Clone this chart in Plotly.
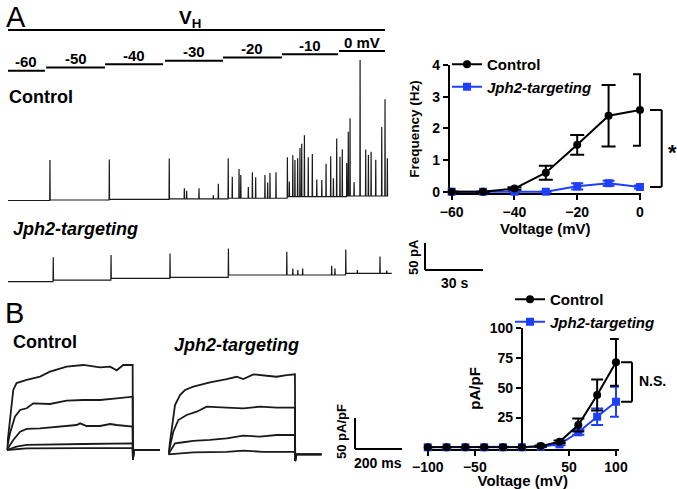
import plotly.graph_objects as go

W, H = 677, 489
FONT = "Liberation Sans, Arial, Helvetica, sans-serif"
BLUE = "#1f3fff"
INK = "#000000"
TRACE = "#1a1a1a"

# ---------------- Panel A: event frequency vs holding voltage ----------------
freq_voltage = [-60, -50, -40, -30, -20, -10, 0]
freq_control = [0, 0, 0.1, 0.6, 1.48, 2.4, 2.58]
freq_control_err = [0, 0, 0.04, 0.22, 0.31, 0.97, 1.13]
freq_jph2 = [0, 0, 0, 0, 0.17, 0.27, 0.15]
freq_jph2_err = [0, 0, 0, 0, 0.1, 0.08, 0.05]

# ---------------- Panel B: current density vs voltage ----------------
iv_voltage = [-100, -80, -60, -40, -20, 0, 20, 40, 60, 80, 100]
iv_control = [0, 0, 0, 0, 0, 0, 1, 4.7, 18.7, 44, 71.4]
iv_control_err = [0, 0, 0, 0, 0, 0, 0.5, 1, 5.5, 13, 19.6]
iv_jph2 = [0, 0, 0, 0, 0, 0, 0.5, 2.5, 12.6, 25.7, 38.3]
iv_jph2_err = [0, 0, 0, 0, 0, 0, 0.3, 0.8, 2, 7, 12.6]

# ---------------- Holding-voltage protocol (s, mV) ----------------
holding_mv = [-60, -50, -40, -30, -20, -10, 0]
holding_start_s = [0, 19.7, 50.2, 81.2, 111.2, 141.7, 171.2]
holding_end_s = [19.1, 50.2, 80.2, 111.2, 141.7, 170.7, 195.0]
holding_labels = ["-60", "-50", "-40", "-30", "-20", "-10", "0 mV"]

# ---------------- Spontaneous events, Control (s, pA) ----------------
ctrl_step_s = [0, 21.7, 52.4, 83.4, 113.9, 144.5, 175.2, 196.6]
ctrl_base_pA = [0, 0.9, 1.9, 2.8, 4.1, 7.0, 8.3]
ctrl_spike_s = [21.7, 52.4, 83.4, 91.2, 92.4, 98.8, 106.2, 108.8, 113.9, 116.0,
                119.5, 120.4, 124.3, 126.4, 128.1, 132.9, 134.3, 135.5, 138.6,
                144.5, 145.5, 147.3, 148.4, 149.8, 151.0, 151.9, 153.3, 155.3,
                157.4, 159.7, 162.3, 164.5, 166.9, 168.3, 170.0, 171.7, 172.9,
                175.2, 176.0, 176.9, 179.0, 182.1, 185.0, 186.4, 187.8, 190.2,
                193.3, 195.0, 196.2]
ctrl_spike_pA = [74, 74, 75, 20, 15, 20, 7, 28, 74, 40,
                 54, 43, 21, 48, 39, 43, 29, 47, 48,
                 73, 28, 77, 68, 71, 90, 98, 114, 73,
                 79, 32, 31, 61, 75, 34, 108, 74, 88,
                 61, 119, 144, 26, 252, 86, 76, 82, 67,
                 128, 179, 70]

# ---------------- Spontaneous events, Jph2-targeting (s, pA) ----------------
jph_step_s = [0, 23.4, 53.3, 83.8, 114.0, 144.2, 174.7, 198.5]
jph_base_pA = [0, 3.1, 6.3, 8.1, 12.4, 12.4, 15.6]
jph_spike_s = [23.4, 53.3, 83.8, 114.0, 144.2, 147.3, 149.9, 152.4, 167.4, 169.1,
               174.7, 180.7, 192.4, 195.9]
jph_spike_pA = [42, 43, 44, 49, 43, 12, 9, 12, 17, 12, 44, 6, 31, 5]

# ---------------- Current traces (ms, pA/pF) ----------------
cc_t1 = [0, 14, 28, 42, 85, 142, 184, 255, 326, 397, 440, 468, 496, 536]
cc_i1 = [0, 53.8, 96.8, 108, 113, 118.3, 126.3, 134.4, 137.1, 133.4, 134.4, 128.5, 137.1, 137.1]
cc_t2 = [0, 14, 35, 57, 85, 113, 184, 255, 326, 397, 468, 536]
cc_i2 = [0, 26.9, 53.8, 64.5, 67.3, 75.3, 74.2, 79.5, 80.6, 80.6, 83.4, 86.0]
cc_t3 = [0, 28, 57, 85, 142, 227, 298, 312, 340, 397, 440, 468, 536]
cc_i3 = [0, 16.1, 29.6, 33.9, 35.0, 37.6, 40.3, 43.0, 38.7, 38.7, 41.9, 40.3, 37.6]
cc_t4 = [0, 42, 85, 184, 326, 536]
cc_i4 = [0, 5.4, 8.1, 9.1, 9.7, 10.8]
cc_t5 = [0, 85, 326, 536]
cc_i5 = [0, 2.5, 3, 3]
cc_tail_t = [537, 541, 652]
cc_tail_i = [-16, 0, 0]

jc_t1 = [0, 14.3, 28.5, 49.8, 71.1, 106.5, 177.4, 248.3, 290.9, 319.3, 361.8, 418.6, 461.1, 503.7, 539]
jc_i1 = [0, 41.9, 79.5, 95.6, 103.7, 109.1, 116.1, 121.4, 125.1, 121.4, 129.0, 126.7, 125.1, 127.9, 129.0]
jc_t2 = [0, 21.3, 42.6, 78.0, 120.6, 163.1, 248.3, 319.3, 390.2, 461.1, 539]
jc_i2 = [0, 36.5, 55.3, 63.4, 68.7, 76.8, 75.2, 74.2, 76.8, 75.2, 75.2]
jc_t3 = [0, 28.5, 64, 106.5, 177.4, 248.3, 319.3, 390.2, 461.1, 539]
jc_i3 = [0, 17.7, 19.4, 21.5, 23.1, 25.8, 30.0, 28.4, 31.1, 31.1]
jc_t4 = [0, 106, 248, 319, 400, 539]
jc_i4 = [0, 3, 4, 6, 4, 4]
jc_tail_t = [540, 544, 652]
jc_tail_i = [-11, 0, 0]


def px(x):
    return x / W


def py(y):
    return 1 - y / H


def dom_x(a, b):
    return [a / W, b / W]


def dom_y(top, bottom):
    return [1 - bottom / H, 1 - top / H]


def build_trace(step_s, base, spike_s, spike_amp, d=0.12):
    def base_at(t):
        for i in range(len(base)):
            if step_s[i] <= t < step_s[i + 1]:
                return base[i]
        return base[-1] if t >= step_s[-1] else base[0]

    pts = [(step_s[0], 0, base[0]), (step_s[-1], 0, base[-1])]
    for i in range(1, len(step_s) - 1):
        b = step_s[i]
        if all(abs(s - b) > d for s in spike_s):
            pts.append((b, 0, base[i - 1]))
            pts.append((b, 1, base[i]))
    for s, a in zip(spike_s, spike_amp):
        pts += [(s - d, 0, base_at(s - d)), (s, 0, base_at(s) + a), (s + d, 0, base_at(s + d))]
    pts.sort(key=lambda p: (p[0], p[1]))
    return [p[0] for p in pts], [p[2] for p in pts]


fig = go.Figure()

# ---- frequency chart (xaxis / yaxis) ----
fig.add_trace(go.Scatter(
    x=freq_voltage, y=freq_jph2, name="<i>Jph2-targeting</i>", mode="lines+markers",
    line=dict(color=BLUE, width=2), marker=dict(symbol="square", size=8, color=BLUE),
    error_y=dict(type="data", array=freq_jph2_err, color=BLUE, thickness=2, width=6),
    cliponaxis=False, xaxis="x", yaxis="y", legend="legend", legendrank=2))
fig.add_trace(go.Scatter(
    x=freq_voltage, y=freq_control, name="Control", mode="lines+markers",
    line=dict(color=INK, width=2), marker=dict(symbol="circle", size=8, color=INK),
    error_y=dict(type="data", array=freq_control_err, color=INK, thickness=2, width=7),
    cliponaxis=False, xaxis="x", yaxis="y", legend="legend", legendrank=1))

# ---- IV chart (xaxis2 / yaxis2) ----
fig.add_trace(go.Scatter(
    x=iv_voltage, y=iv_jph2, name="<i>Jph2-targeting</i>", mode="lines+markers",
    line=dict(color=BLUE, width=2), marker=dict(symbol="square", size=8, color=BLUE),
    error_y=dict(type="data", array=iv_jph2_err, color=BLUE, thickness=2, width=6),
    cliponaxis=False, xaxis="x2", yaxis="y2", legend="legend2", legendrank=2))
fig.add_trace(go.Scatter(
    x=iv_voltage, y=iv_control, name="Control", mode="lines+markers",
    line=dict(color=INK, width=2), marker=dict(symbol="circle", size=8, color=INK),
    error_y=dict(type="data", array=iv_control_err, color=INK, thickness=2, width=6),
    cliponaxis=False, xaxis="x2", yaxis="y2", legend="legend2", legendrank=1))

# ---- spontaneous traces ----
cx, cy = build_trace(ctrl_step_s, ctrl_base_pA, ctrl_spike_s, ctrl_spike_pA)
fig.add_trace(go.Scatter(x=cx, y=cy, mode="lines", line=dict(color=TRACE, width=1.2),
                         showlegend=False, xaxis="x3", yaxis="y3", hoverinfo="skip"))
jx, jy = build_trace(jph_step_s, jph_base_pA, jph_spike_s, jph_spike_pA)
fig.add_trace(go.Scatter(x=jx, y=jy, mode="lines", line=dict(color=TRACE, width=1.2),
                         showlegend=False, xaxis="x4", yaxis="y4", hoverinfo="skip"))

# ---- holding protocol ----
hx, hy = [], []
for s, e, v in zip(holding_start_s, holding_end_s, holding_mv):
    hx += [s, e, None]
    hy += [v, v, None]
fig.add_trace(go.Scatter(x=hx, y=hy, mode="lines", line=dict(color=INK, width=2),
                         showlegend=False, xaxis="x5", yaxis="y5", hoverinfo="skip"))

# ---- current traces ----
for t, i in [(cc_t1, cc_i1), (cc_t2, cc_i2), (cc_t3, cc_i3), (cc_t4, cc_i4), (cc_t5, cc_i5)]:
    fig.add_trace(go.Scatter(x=t + cc_tail_t, y=i + cc_tail_i, mode="lines",
                             line=dict(color=TRACE, width=1.8), showlegend=False,
                             xaxis="x6", yaxis="y6", hoverinfo="skip"))
for t, i in [(jc_t1, jc_i1), (jc_t2, jc_i2), (jc_t3, jc_i3), (jc_t4, jc_i4)]:
    fig.add_trace(go.Scatter(x=t + jc_tail_t, y=i + jc_tail_i, mode="lines",
                             line=dict(color=TRACE, width=1.8), showlegend=False,
                             xaxis="x7", yaxis="y7", hoverinfo="skip"))

bold14 = dict(family=FONT, size=14, color=INK, weight=700)
axis_common = dict(showline=True, linecolor=INK, linewidth=2, ticks="outside",
                   ticklen=5, tickwidth=2, tickcolor=INK, showgrid=False,
                   zeroline=False, tickfont=bold14, layer="below traces")
hidden = dict(visible=False, showgrid=False, zeroline=False, fixedrange=True)

fig.update_layout(
    width=W, height=H, margin=dict(l=0, r=0, t=0, b=0, autoexpand=False),
    paper_bgcolor="white", plot_bgcolor="rgba(0,0,0,0)",
    font=dict(family=FONT, color=INK),
    xaxis=dict(domain=dom_x(449.8, 640.9), range=[-60.6, 0.3], anchor="y",
               tickvals=[-60, -40, -20, 0],
               title=dict(text="Voltage (mV)", font=dict(family=FONT, size=15, weight=700), standoff=4),
               **axis_common),
    yaxis=dict(domain=dom_y(65, 193), range=[-0.04, 4], anchor="x",
               tickvals=[0, 1, 2, 3, 4],
               title=dict(text="Frequency (Hz)", font=dict(family=FONT, size=13.5, weight=700), standoff=9),
               **axis_common),
    xaxis2=dict(domain=dom_x(426.8, 618.8), range=[-101, 103], anchor="y2",
                tickvals=[-100, -50, 50, 100],
                title=dict(text="Voltage (mV)", font=dict(family=FONT, size=15, weight=700), standoff=0),
                **axis_common),
    yaxis2=dict(domain=dom_y(328.3, 448.5), range=[-1, 100], anchor="free",
                position=px(521.9), tickvals=[25, 50, 75, 100],
                title=dict(text="pA/pF", font=dict(family=FONT, size=15, weight=700), standoff=4),
                **axis_common),
    xaxis3=dict(domain=dom_x(8, 394.7), range=[0, 200], anchor="y3", **hidden),
    yaxis3=dict(domain=dom_y(55, 215), range=[-26.9, 269.5], anchor="x3", **hidden),
    xaxis4=dict(domain=dom_x(8, 394.7), range=[0, 200], anchor="y4", **hidden),
    yaxis4=dict(domain=dom_y(230, 295), range=[-24.6, 95.7], anchor="x4", **hidden),
    xaxis5=dict(domain=dom_x(8, 394.7), range=[0, 200], anchor="y5", **hidden),
    yaxis5=dict(domain=dom_y(40, 80), range=[-88.4, 33.6], anchor="x5", **hidden),
    xaxis6=dict(domain=dom_x(6.7, 161.8), range=[0, 660], anchor="y6", **hidden),
    yaxis6=dict(domain=dom_y(355, 465), range=[-24.2, 153.2], anchor="x6", **hidden),
    xaxis7=dict(domain=dom_x(168.3, 323.4), range=[0, 660], anchor="y7", **hidden),
    yaxis7=dict(domain=dom_y(355, 465), range=[-17.3, 160.2], anchor="x7", **hidden),
    legend=dict(x=px(447), y=py(48), xanchor="left", yanchor="top",
                bgcolor="rgba(0,0,0,0)", font=dict(family=FONT, size=15, weight=700),
                tracegroupgap=0, itemwidth=30, traceorder="normal"),
    legend2=dict(x=px(510), y=py(283), xanchor="left", yanchor="top",
                 bgcolor="rgba(0,0,0,0)", font=dict(family=FONT, size=15, weight=700),
                 tracegroupgap=0, itemwidth=30, traceorder="normal"),
    showlegend=True,
)

shapes = []
line2 = dict(color=INK, width=2)
# V_H bar
shapes.append(dict(type="line", xref="paper", yref="paper", x0=px(8), x1=px(385),
                   y0=py(30), y1=py(30), line=line2))
# scale bar A
shapes.append(dict(type="line", xref="paper", yref="paper", x0=px(425), x1=px(425),
                   y0=py(243), y1=py(270), line=line2))
shapes.append(dict(type="line", xref="paper", yref="paper", x0=px(425), x1=px(483),
                   y0=py(270), y1=py(270), line=line2))
# scale bar B
shapes.append(dict(type="line", xref="paper", yref="paper", x0=px(355), x1=px(355),
                   y0=py(418), y1=py(449), line=line2))
shapes.append(dict(type="line", xref="paper", yref="paper", x0=px(355), x1=px(402),
                   y0=py(449), y1=py(449), line=line2))
# significance bracket A
shapes.append(dict(type="line", xref="paper", yref="y", x0=px(650), x1=px(661.7),
                   y0=freq_control[-1], y1=freq_control[-1], line=line2))
shapes.append(dict(type="line", xref="paper", yref="y", x0=px(661.7), x1=px(661.7),
                   y0=freq_control[-1], y1=freq_jph2[-1], line=line2))
shapes.append(dict(type="line", xref="paper", yref="y", x0=px(650), x1=px(661.7),
                   y0=freq_jph2[-1], y1=freq_jph2[-1], line=line2))
# N.S. bracket B
shapes.append(dict(type="line", xref="paper", yref="y2", x0=px(621), x1=px(632),
                   y0=iv_control[-1], y1=iv_control[-1], line=line2))
shapes.append(dict(type="line", xref="paper", yref="y2", x0=px(632), x1=px(632),
                   y0=iv_control[-1], y1=iv_jph2[-1], line=line2))
shapes.append(dict(type="line", xref="paper", yref="y2", x0=px(621), x1=px(632),
                   y0=iv_jph2[-1], y1=iv_jph2[-1], line=line2))
fig.update_layout(shapes=shapes)

ann = []


def text(x, y, s, size, bold=True, italic=False, xanchor="center", angle=0):
    ann.append(dict(xref="paper", yref="paper", x=px(x), y=py(y), text=s, showarrow=False,
                    xanchor=xanchor, yanchor="middle", textangle=angle,
                    font=dict(family=FONT, size=size, color=INK,
                              weight=700 if bold else 400,
                              style="italic" if italic else "normal")))


text(4, 17, "A", 29, bold=False, xanchor="left")
text(190, 19, "V<sub>H</sub>", 19)
text(7, 97, "Control", 18, xanchor="left")
text(11, 229, "Jph2-targeting", 18, italic=True, xanchor="left")
text(413, 257, "50 pA", 13, angle=-90)
text(454, 283, "30 s", 14)
text(672, 153, "*", 22)
text(3, 313, "B", 29, bold=False, xanchor="left")
text(11, 342, "Control", 18, xanchor="left")
text(172, 345, "Jph2-targeting", 18, italic=True, xanchor="left")
text(341, 432, "50 pA/pF", 13, angle=-90)
text(378, 463, "200 ms", 14)
text(637, 381, "N.S.", 14, xanchor="left")

for s, e, v, lab in zip(holding_start_s, holding_end_s, holding_mv, holding_labels):
    ann.append(dict(xref="x5", yref="y5", x=(s + e) / 2, y=v, text=lab, showarrow=False,
                    xanchor="center", yanchor="middle", yshift=9,
                    font=dict(family=FONT, size=15, color=INK, weight=700)))
fig.update_layout(annotations=ann)

fig.write_html("out.html", config={"displayModeBar": False},
               post_script="document.body.style.margin='0';document.body.style.overflow='hidden';")
